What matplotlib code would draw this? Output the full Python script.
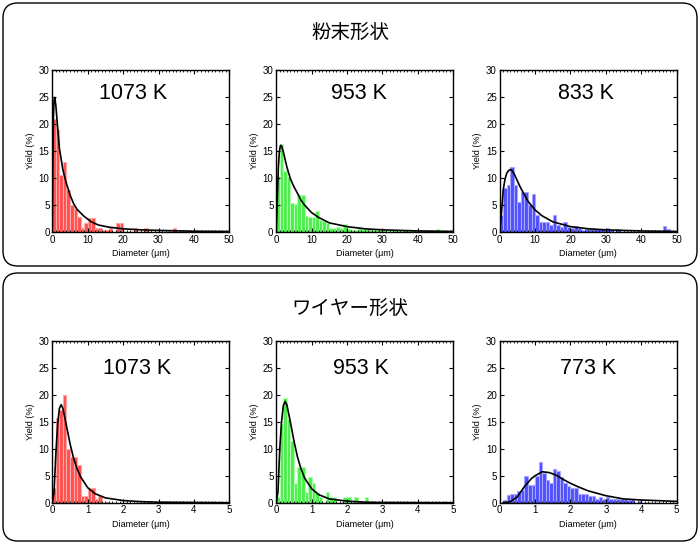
import numpy as np
import matplotlib
matplotlib.use('Agg')
import matplotlib.pyplot as plt
from matplotlib.patches import FancyBboxPatch
from matplotlib.ticker import MultipleLocator

plt.rcParams['font.family'] = ['Liberation Sans', 'Noto Sans CJK JP', 'DejaVu Sans']

# Titles of the two groups
group_titles = ['粉末形状', 'ワイヤー形状']
panel_temps = [['1073 K', '953 K', '833 K'], ['1073 K', '953 K', '773 K']]

# Histogram yields (%) per bin: top row 1 µm bins 0-50, bottom row 0.1 µm bins 0-5
p1_yield = [21, 19, 10.5, 13, 7.8, 5.1, 4.3, 2.7, 0.8, 1.6,
            2.6, 2.6, 0.8, 0.8, 0.4, 0.4, 0.8, 0, 1.6, 1.6,
            0, 0, 0, 0.8, 0, 0, 0.8, 0, 0, 0,
            0, 0, 0, 0, 0.8, 0, 0, 0, 0, 0,
            0, 0, 0, 0, 0, 0, 0, 0, 0, 0]
p2_yield = [10.4, 16.3, 11.3, 10.3, 5.3, 5.2, 6.9, 6.9, 2.9, 2.7,
            2.7, 3.9, 2.2, 2.0, 1.7, 0.7, 0.7, 0.9, 0.7, 1.4,
            0.5, 0.4, 0.4, 0.9, 0.5, 0.5, 0.6, 0.4, 0.3, 0.3,
            0.3, 0.2, 0.2, 0.3, 0.2, 0.2, 0.3, 0.2, 0.2, 0.3,
            0.2, 0.2, 0.2, 0.3, 0.2, 0.5, 0.3, 0.2, 0.2, 0.4]
p3_yield = [3.1, 8.1, 8.8, 12.0, 8.7, 5.6, 7.5, 7.5, 5.1, 7.0,
            3.1, 1.8, 1.8, 1.8, 1.3, 3.1, 1.3, 1.0, 1.8, 1.0,
            0.7, 1.2, 0.7, 0.4, 0.5, 0.5, 0.5, 0.5, 0.5, 0.5,
            0.8, 0.3, 0, 0.6, 0, 0, 0, 0, 0, 0,
            0, 0, 0, 0, 0, 0, 1.2, 0.6, 0, 0]
p4_yield = [2.7, 15.8, 17.2, 20.0, 10.0, 8.5, 8.5, 7.0, 1.3, 1.3,
            2.7, 2.7, 0.6, 1.3, 0, 0.2, 0, 0, 0, 0,
            0, 0, 0, 0, 0, 0, 0, 0, 0, 0,
            0, 0, 0, 0, 0, 0, 0, 0, 0, 0,
            0, 0, 0, 0, 0, 0, 0, 0, 0, 0]
p5_yield = [1.0, 14.7, 19.5, 15.6, 11.5, 3.7, 6.7, 6.7, 2.0, 4.8,
            3.7, 2.0, 1.0, 0, 1.9, 1.0, 1.0, 0, 0, 1.0,
            1.0, 0, 1.0, 0, 0, 1.0, 0, 0, 0, 0,
            0, 0, 0, 0, 0, 0, 0, 0, 0, 0,
            0, 0, 0, 0, 0, 0, 0, 0, 0, 0]
p6_yield = [0, 0.5, 1.4, 1.7, 1.7, 2.2, 2.4, 5.0, 3.3, 3.3,
            5.0, 7.6, 5.6, 4.3, 3.7, 6.2, 5.9, 4.7, 3.6, 3.1,
            2.8, 2.8, 1.7, 1.7, 1.7, 1.3, 1.3, 0.7, 1.1, 0.6,
            1.1, 0.7, 0.7, 0.6, 0.6, 0.6, 0.5, 0.6, 0, 0.3,
            0, 0, 0, 0, 0, 0, 0, 0, 0, 0]

# Fitted distribution curves
p1_fit_x = [0, 0.15, 0.3, 0.5, 0.7, 1.0, 1.5, 2, 3, 4, 5, 6, 7, 9, 11, 13, 16, 20, 25, 30, 40, 50]
p1_fit_y = [0, 12, 21, 24.5, 25, 23.5, 19.5, 15.6, 11.5, 9, 6.9, 5.3, 4.2, 2.9, 1.9, 1.3, 0.9, 0.6, 0.4, 0.3, 0.15, 0.1]
p2_fit_x = [0, 0.3, 0.6, 0.9, 1.2, 1.5, 2, 3, 4, 5, 6, 7, 8, 10, 12, 15, 20, 25, 30, 40, 50]
p2_fit_y = [0, 6, 12, 15, 16.1, 16, 14.9, 12.1, 9.9, 8.4, 7.2, 5.9, 5.0, 3.6, 2.7, 1.7, 1.0, 0.6, 0.4, 0.2, 0.1]
p3_fit_x = [0, 0.5, 1, 1.5, 2, 2.5, 3, 3.5, 4, 5, 6, 7, 8, 10, 12, 15, 20, 25, 30, 40, 50]
p3_fit_y = [0, 3.5, 7.8, 9.8, 10.9, 11.4, 11.6, 11.4, 10.9, 9.5, 8.1, 6.9, 5.7, 4.1, 3.0, 1.9, 1.0, 0.6, 0.4, 0.2, 0.1]
p4_fit_x = [0, 0.05, 0.1, 0.15, 0.2, 0.25, 0.3, 0.4, 0.5, 0.6, 0.7, 0.8, 1.0, 1.2, 1.5, 2, 2.5, 3, 5]
p4_fit_y = [0, 2, 9, 14.5, 17.5, 18.2, 17.5, 14.3, 11, 8.3, 6.3, 4.8, 2.8, 1.7, 0.9, 0.4, 0.2, 0.1, 0]
p5_fit_x = [0, 0.05, 0.1, 0.15, 0.2, 0.25, 0.3, 0.4, 0.5, 0.6, 0.7, 0.8, 1.0, 1.2, 1.5, 2, 2.5, 3, 5]
p5_fit_y = [0, 2, 10, 15, 18, 18.8, 18.2, 15, 11.5, 8.5, 6.3, 4.6, 2.6, 1.5, 0.7, 0.3, 0.1, 0.05, 0]
p6_fit_x = [0.1, 0.2, 0.3, 0.5, 0.7, 0.9, 1.0, 1.2, 1.4, 1.6, 1.8, 2.0, 2.2, 2.5, 3.0, 3.5, 4.0, 5.0]
p6_fit_y = [0, 0.05, 0.2, 1.1, 3.0, 4.5, 5.0, 5.75, 5.6, 5.1, 4.3, 3.6, 3.0, 2.2, 1.3, 0.7, 0.5, 0.25]

yields = [[p1_yield, p2_yield, p3_yield], [p4_yield, p5_yield, p6_yield]]
fits = [[(p1_fit_x, p1_fit_y), (p2_fit_x, p2_fit_y), (p3_fit_x, p3_fit_y)],
        [(p4_fit_x, p4_fit_y), (p5_fit_x, p5_fit_y), (p6_fit_x, p6_fit_y)]]

face_colors = ['#ff5050', '#4cee4c', '#5050ff']
edge_colors = ['#ffa8a8', '#b0ffb0', '#a8a8ff']

fig = plt.figure(figsize=(7, 5.44), dpi=100)

# Rounded frames around each group (in inches)
for (y0, h) in [(2.78, 2.63), (0.03, 2.68)]:
    box = FancyBboxPatch((0.03, y0), 6.94, h, boxstyle='round,pad=0,rounding_size=0.15',
                         transform=fig.dpi_scale_trans, facecolor='none',
                         edgecolor='black', linewidth=1.0)
    fig.patches.append(box)

fig.text(0.5, 1 - 32 / 544, group_titles[0], ha='center', va='center', fontsize=14,
         family=['Noto Sans CJK JP'])
fig.text(0.5, 1 - 308 / 544, group_titles[1], ha='center', va='center', fontsize=14,
         family=['Noto Sans CJK JP'])

lefts = [0.0747, 0.3946, 0.7138]
bottoms = [0.5735, 0.0759]
width = 0.2529
height = 0.297
label_x = [[0.455, 0.467, 0.49], [0.478, 0.477, 0.497]]
label_y = [0.855, 0.833]

for r in range(2):
    xmax = 50 if r == 0 else 5
    bw = xmax / 50
    edges = np.arange(50) * bw
    for c in range(3):
        ax = fig.add_axes([lefts[c], bottoms[r], width, height])
        ax.bar(edges, yields[r][c], width=bw, align='edge', color=face_colors[c],
               edgecolor=edge_colors[c], linewidth=0.8)
        fx, fy = fits[r][c]
        ax.plot(fx, fy, color='black', linewidth=1.2)
        ax.set_xlim(0, xmax)
        ax.set_ylim(0, 30)
        ax.xaxis.set_major_locator(MultipleLocator(xmax / 5))
        ax.xaxis.set_minor_locator(MultipleLocator(bw))
        ax.yaxis.set_major_locator(MultipleLocator(5))
        if r == 1:
            ax.set_xticklabels([str(v) for v in range(-1, 6)])
        ax.tick_params(direction='in', top=True, right=True, labelsize=7,
                       length=3, width=0.8, pad=2)
        ax.tick_params(which='minor', direction='in', top=True, bottom=True,
                       length=1.5, width=0.6)
        for s in ax.spines.values():
            s.set_linewidth(1.0)
        ax.set_xlabel('Diameter (μm)', fontsize=6.5, labelpad=3)
        ax.set_ylabel('Yield (%)', fontsize=6.5, labelpad=3)
        ax.text(label_x[r][c], label_y[r], panel_temps[r][c], transform=ax.transAxes,
                ha='center', va='center', fontsize=15.5)

fig.savefig('out.png', dpi=100)
